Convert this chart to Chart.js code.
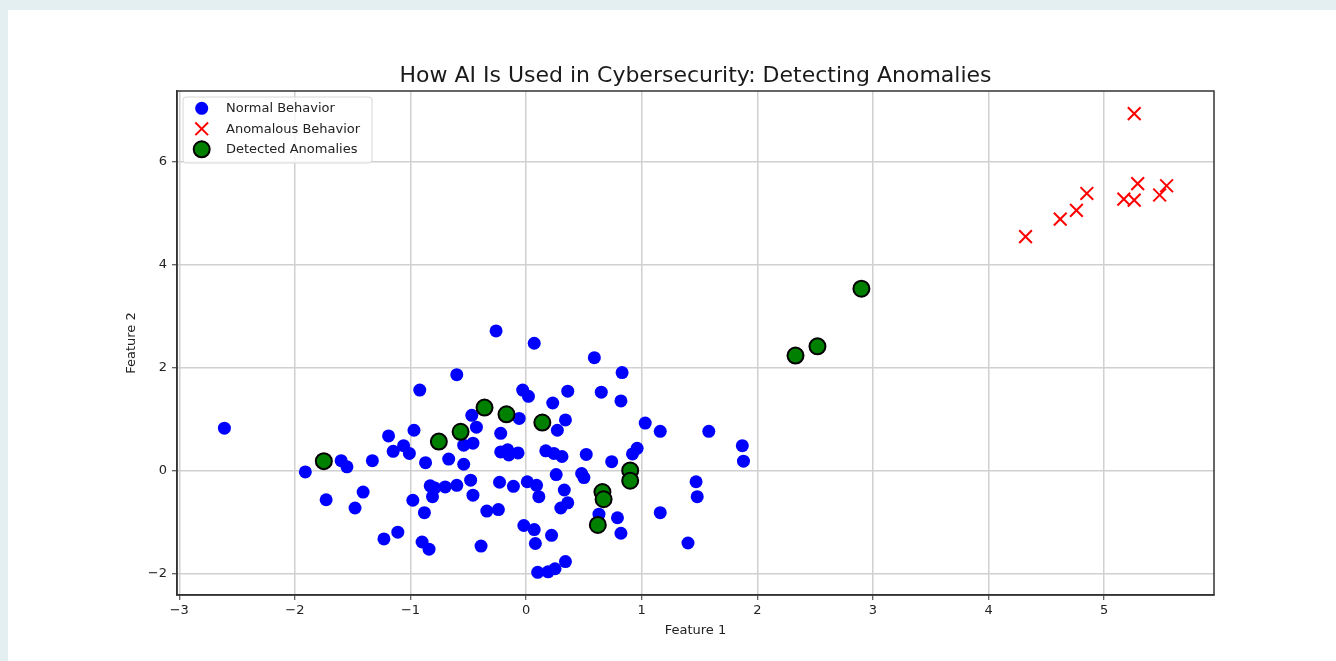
<!DOCTYPE html>
<html>
<head>
<meta charset="utf-8">
<script src="https://cdn.jsdelivr.net/npm/chart.js@4.4.1/dist/chart.umd.min.js"></script>
<style>
  html, body { margin: 0; padding: 0; background: #e4eff2; overflow: hidden; }
  #card { position: absolute; left: 8px; top: 10px; width: 1328px; height: 651px; background: #ffffff; }
  canvas { display: block; }
</style>
</head>
<body>
<div id="card"><canvas id="chart" width="1328" height="651"></canvas></div>
<script>
// 正常行为 (蓝点)
const normalX = [-2.61, -1.91, -1.73, -1.60, -1.55, -1.48, -1.41, -1.33, -1.23, -1.19,
  -1.15, -1.11, -1.06, -1.01, -0.97, -0.98, -0.92, -0.90, -0.88, -0.87,
  -0.84, -0.83, -0.81, -0.79, -0.70, -0.67, -0.60, -0.60, -0.54, -0.54,
  -0.46, -0.48, -0.46, -0.47, -0.43, -0.39, -0.34, -0.26, -0.24, -0.23,
  -0.22, -0.22, -0.16, -0.15, -0.11, -0.07, -0.06, -0.03, -0.02, 0.01,
  0.02, 0.07, 0.07, 0.08, 0.09, 0.11, 0.10, 0.17, 0.22, 0.19,
  0.24, 0.25, 0.23, 0.26, 0.27, 0.31, 0.30, 0.33, 0.34, 0.34,
  0.36, 0.36, 0.48, 0.50, 0.52, 0.59, 0.65, 0.63, 0.74, 0.79,
  0.83, 0.82, 0.82, 0.92, 0.96, 1.03, 1.16, 1.16, 1.40, 1.47,
  1.48, 1.58, 1.87, 1.88];
const normalY = [0.82, -0.03, -0.57, 0.19, 0.07, -0.73, -0.42, 0.19, -1.33, 0.67,
  0.37, -1.20, 0.48, 0.33, 0.78, -0.58, 1.56, -1.39, -0.82, 0.15,
  -1.53, -0.30, -0.51, -0.34, -0.32, 0.22, -0.29, 1.86, 0.12, 0.49,
  0.53, -0.19, -0.48, 1.07, 0.84, -1.47, -0.79, 2.71, -0.76, -0.23,
  0.72, 0.36, 0.40, 0.30, -0.31, 0.34, 1.01, 1.56, -1.07, -0.22,
  1.44, -1.15, 2.47, -1.42, -0.29, -0.51, -1.98, 0.38, -1.26, -1.97,
  0.33, -1.91, 1.31, -0.08, 0.78, 0.27, -0.73, -0.38, 0.98, -1.77,
  1.54, -0.63, -0.06, -0.14, 0.31, 2.19, 1.52, -0.85, 0.17, -0.92,
  1.90, 1.35, -1.22, 0.32, 0.43, 0.92, 0.76, -0.82, -1.41, -0.22,
  -0.51, 0.76, 0.48, 0.18];

// 异常行为 (红叉)
const anomalyX = [5.26, 4.32, 4.62, 4.76, 4.85, 5.17, 5.26, 5.29, 5.48, 5.54];
const anomalyY = [6.93, 4.54, 4.88, 5.05, 5.38, 5.27, 5.25, 5.57, 5.35, 5.53];

// 检测到的异常 (绿点)
const detectedX = [-1.75, -0.755, -0.567, -0.36, -0.17, 0.14, 0.90, 0.90, 0.66, 0.67, 0.62, 2.33, 2.52, 2.90];
const detectedY = [0.18, 0.56, 0.75, 1.22, 1.09, 0.93, 0.00, -0.20, -0.42, -0.56, -1.06, 2.23, 2.41, 3.53];

// 刻度
const xTicks = [-3, -2, -1, 0, 1, 2, 3, 4, 5];
const yTicks = [-2, 0, 2, 4, 6];

const seriesLabels = ['Normal Behavior', 'Anomalous Behavior', 'Detected Anomalies'];
const titleText = 'How AI Is Used in Cybersecurity: Detecting Anomalies';

const FONT = "'DejaVu Sans', 'Liberation Sans', sans-serif";
const toPoints = (xs, ys) => xs.map((x, i) => ({ x: x, y: ys[i] }));
const fmtTick = v => (v < 0 ? '\u2212' + Math.abs(v) : String(v));

// 坐标轴外框
const framePlugin = {
  id: 'frame',
  afterDatasetsDraw(chart) {
    const { ctx, chartArea: a } = chart;
    ctx.save();
    ctx.strokeStyle = '#333';
    ctx.lineWidth = 1.5;
    ctx.strokeRect(a.left, a.top, a.right - a.left, a.bottom - a.top);
    ctx.restore();
  }
};

// matplotlib 风格图例
const legendPlugin = {
  id: 'mplLegend',
  afterDraw(chart) {
    const { ctx, chartArea: a } = chart;
    const bx = a.left + 6, by = a.top + 6, bw = 189, bh = 66;
    ctx.save();
    ctx.beginPath();
    ctx.roundRect(bx, by, bw, bh, 3);
    ctx.fillStyle = 'rgba(255,255,255,0.8)';
    ctx.fill();
    ctx.strokeStyle = '#d6d6d6';
    ctx.lineWidth = 1;
    ctx.stroke();

    ctx.font = '13px ' + FONT;
    ctx.textBaseline = 'middle';
    chart.data.datasets.forEach((ds, i) => {
      const mx = a.left + 24.7;
      const my = a.top + 17.3 + i * 20.5;
      if (ds.pointStyle === 'crossRot') {
        const h = ds.pointRadius * Math.SQRT1_2;
        ctx.beginPath();
        ctx.moveTo(mx - h, my - h); ctx.lineTo(mx + h, my + h);
        ctx.moveTo(mx - h, my + h); ctx.lineTo(mx + h, my - h);
        ctx.strokeStyle = ds.borderColor;
        ctx.lineWidth = ds.pointBorderWidth;
        ctx.stroke();
      } else {
        ctx.beginPath();
        ctx.arc(mx, my, ds.pointRadius, 0, Math.PI * 2);
        ctx.fillStyle = ds.backgroundColor;
        ctx.fill();
        if (ds.pointBorderWidth > 0) {
          ctx.strokeStyle = ds.borderColor;
          ctx.lineWidth = ds.pointBorderWidth;
          ctx.stroke();
        }
      }
      ctx.fillStyle = '#222';
      ctx.fillText(ds.label, a.left + 49, my + 0.5);
    });
    ctx.restore();
  }
};

const ctx = document.getElementById('chart').getContext('2d');
new Chart(ctx, {
  type: 'scatter',
  data: {
    datasets: [
      {
        label: seriesLabels[0],
        data: toPoints(normalX, normalY),
        pointStyle: 'circle',
        pointRadius: 6.5,
        backgroundColor: '#0000ff',
        borderColor: '#0000ff',
        pointBorderWidth: 0,
        order: 2
      },
      {
        label: seriesLabels[1],
        data: toPoints(anomalyX, anomalyY),
        pointStyle: 'crossRot',
        pointRadius: 9,
        backgroundColor: '#ff0000',
        borderColor: '#ff0000',
        pointBorderWidth: 2,
        order: 1
      },
      {
        label: seriesLabels[2],
        data: toPoints(detectedX, detectedY),
        pointStyle: 'circle',
        pointRadius: 8,
        backgroundColor: '#008000',
        borderColor: '#000000',
        pointBorderWidth: 2,
        order: 0
      }
    ]
  },
  options: {
    responsive: false,
    animation: false,
    events: [],
    layout: { padding: { left: 116, right: 122, top: 0, bottom: 23 } },
    plugins: {
      legend: { display: false },
      tooltip: { enabled: false },
      title: {
        display: true,
        text: titleText,
        fullSize: false,
        color: '#1a1a1a',
        font: { family: FONT, size: 22, weight: 'normal' },
        padding: { top: 52.8, bottom: 1.8 }
      }
    },
    scales: {
      x: {
        type: 'linear',
        min: -3.02,
        max: 5.95,
        afterBuildTicks: s => { s.ticks = xTicks.map(v => ({ value: v })); },
        afterFit: s => { s.height = 43; },
        ticks: { callback: fmtTick, color: '#222', font: { family: FONT, size: 13 }, padding: 3, maxRotation: 0, autoSkip: false },
        grid: { color: '#d0d0d0', lineWidth: 1.5, tickColor: '#333', tickLength: 5, tickWidth: 1 },
        border: { display: true, color: '#333', width: 1.5 },
        title: { display: true, text: 'Feature 1', color: '#222', font: { family: FONT, size: 13 }, padding: 0 }
      },
      y: {
        type: 'linear',
        min: -2.42,
        max: 7.37,
        afterBuildTicks: s => { s.ticks = yTicks.map(v => ({ value: v })); },
        afterFit: s => { s.width = 53; },
        ticks: { callback: fmtTick, color: '#222', font: { family: FONT, size: 13 }, padding: 5, autoSkip: false },
        grid: { color: '#d0d0d0', lineWidth: 1.5, tickColor: '#333', tickLength: 5, tickWidth: 1 },
        border: { display: true, color: '#333', width: 1.5 },
        title: { display: true, text: 'Feature 2', color: '#222', font: { family: FONT, size: 13 }, padding: 0 }
      }
    }
  },
  plugins: [framePlugin, legendPlugin]
});
</script>
</body>
</html>
